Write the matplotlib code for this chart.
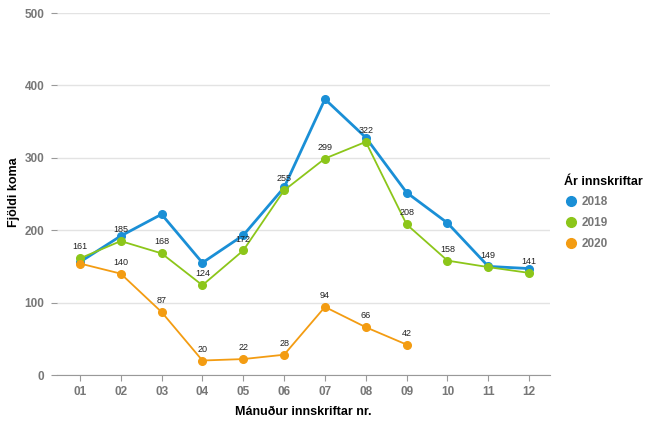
import matplotlib
matplotlib.use('Agg')
import matplotlib.pyplot as plt
from matplotlib.lines import Line2D

# Data
months = ['01', '02', '03', '04', '05', '06', '07', '08', '09', '10', '11', '12']
v2018 = [156, 192, 222, 155, 193, 259, 381, 328, 252, 210, 150, 147]
v2019 = [161, 185, 168, 124, 172, 255, 299, 322, 208, 158, 149, 141]
v2020 = [154, 140, 87, 20, 22, 28, 94, 66, 42]

c2018 = '#1a8fd6'
c2019 = '#8cc61a'
c2020 = '#f39c12'

plt.rcParams['font.family'] = ['Liberation Sans', 'DejaVu Sans']

fig = plt.figure(figsize=(6.52, 4.21), dpi=100)
ax = fig.add_axes([57 / 652, 46 / 421, 493 / 652, 362 / 421])

x = list(range(1, 13))
ax.plot(x, v2018, color=c2018, lw=2.0, marker='o', ms=5.5, zorder=3)
ax.plot(x, v2019, color=c2019, lw=1.3, marker='o', ms=5.5, zorder=4)
ax.plot(x[:len(v2020)], v2020, color=c2020, lw=1.3, marker='o', ms=5.5, zorder=4)

for xi, v in zip(x, v2019):
    ax.annotate(str(v), (xi, v), xytext=(0, 5), textcoords='offset points',
                ha='center', va='bottom', fontsize=6.5, color='#222222', zorder=5)
# first 2020 label is hidden behind the 2019 one in the original
for xi, v in list(zip(x, v2020))[1:]:
    ax.annotate(str(v), (xi, v), xytext=(0, 5), textcoords='offset points',
                ha='center', va='bottom', fontsize=6.5, color='#222222', zorder=5)

ax.set_xlim(0.44, 12.51)
ax.set_ylim(0, 500)
ax.set_xticks(x)
ax.set_xticklabels(months)
ax.set_yticks([0, 100, 200, 300, 400, 500])
ax.grid(axis='y', color='#e3e3e3', lw=1)
ax.set_axisbelow(True)

for s in ['top', 'right', 'left']:
    ax.spines[s].set_visible(False)
ax.spines['bottom'].set_color('#999999')
ax.tick_params(axis='x', colors='#999999', length=4, labelsize=8.5, pad=4)
ax.tick_params(axis='y', colors='#999999', length=4, labelsize=8.5, pad=5)
for lab in ax.get_xticklabels() + ax.get_yticklabels():
    lab.set_color('#777777')
    lab.set_fontweight('bold')

ax.set_xlabel('Mánuður innskriftar nr.', fontsize=9, fontweight='bold', labelpad=6)
fig.text(14 / 652, 1 - 192 / 421, 'Fjöldi koma', rotation=90, ha='center', va='center',
         fontsize=9, fontweight='bold')

handles = [Line2D([], [], ls='none', marker='o', ms=7, color=c) for c in (c2018, c2019, c2020)]
leg = fig.legend(handles, ['2018', '2019', '2020'], title='Ár innskriftar',
                 loc='upper left', bbox_to_anchor=(553 / 652, 1 - 165 / 421),
                 frameon=False, fontsize=8.5, title_fontsize=9,
                 handletextpad=0.3, labelspacing=0.75, handlelength=1.2)
leg.get_title().set_fontweight('bold')
leg._legend_box.align = 'left'
for t in leg.get_texts():
    t.set_color('#777777')
    t.set_fontweight('bold')

fig.savefig('out.png', dpi=100)
